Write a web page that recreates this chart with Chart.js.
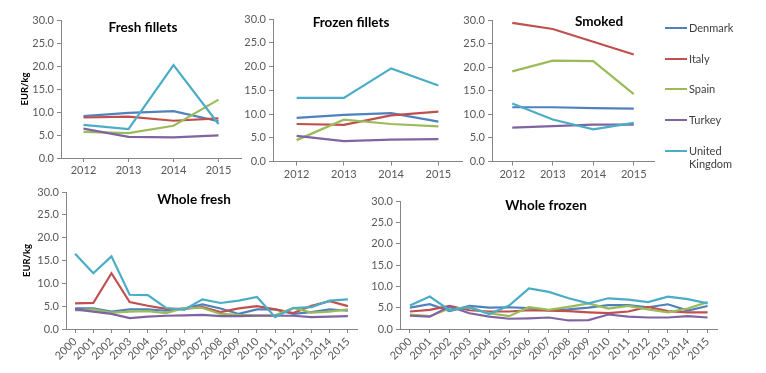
<!DOCTYPE html>
<html>
<head>
<meta charset="utf-8">
<script src="https://cdn.jsdelivr.net/npm/chart.js@4/dist/chart.umd.min.js"></script>
<style>
  body { margin: 0; background: #fff; }
  #wrap { position: relative; width: 766px; height: 373px; overflow: hidden; font-family: Lato, "Open Sans", sans-serif; }
  .panel { position: absolute; }
  #legend { position: absolute; left: 665px; top: 21px; font-size: 11px; color: #404040; }
  .item { display: flex; align-items: flex-start; height: 30.7px; }
  .swatch { width: 22px; height: 2px; margin-top: 6px; margin-right: 2px; }
</style>
</head>
<body>
<div id="wrap">
  <div class="panel" style="left:0;top:0;width:248px;height:185px"><canvas id="c1"></canvas></div>
  <div class="panel" style="left:240px;top:0;width:228px;height:185px"><canvas id="c2"></canvas></div>
  <div class="panel" style="left:458px;top:0;width:200px;height:185px"><canvas id="c3"></canvas></div>
  <div class="panel" style="left:0;top:180px;width:362px;height:193px"><canvas id="c4"></canvas></div>
  <div class="panel" style="left:362px;top:180px;width:362px;height:193px"><canvas id="c5"></canvas></div>
  <div id="legend"></div>
</div>
<script>
const countries = ["Denmark", "Italy", "Spain", "Turkey", "United Kingdom"];
const colors = ["#4F81BD", "#C0504D", "#9BBB59", "#8064A2", "#4BACC6"];
const shortYears = ["2012", "2013", "2014", "2015"];
const longYears = ["2000", "2001", "2002", "2003", "2004", "2005", "2006", "2007",
                   "2008", "2009", "2010", "2011", "2012", "2013", "2014", "2015"];

// EUR/kg, one row per country (same order as countries)
const freshFillets = [
  [9.1, 9.8, 10.2, 8.0],
  [8.8, 9.0, 8.1, 8.6],
  [5.7, 5.4, 7.0, 12.7],
  [6.4, 4.6, 4.5, 4.9],
  [7.2, 6.3, 20.2, 7.4]
];
const frozenFillets = [
  [9.2, 9.8, 10.2, 8.4],
  [7.9, 7.7, 9.7, 10.5],
  [4.5, 8.8, 7.9, 7.4],
  [5.4, 4.3, 4.6, 4.7],
  [13.4, 13.4, 19.6, 16.0]
];
const smoked = [
  [11.5, 11.5, 11.3, 11.2],
  [29.4, 28.1, 25.4, 22.7],
  [19.1, 21.4, 21.3, 14.3],
  [7.2, 7.5, 7.8, 7.8],
  [12.3, 8.9, 6.8, 8.2]
];
const wholeFresh = [
  [4.5, 4.5, 3.8, 4.3, 4.3, 4.0, 4.5, 5.4, 4.5, 3.3, 4.3, 4.3, 3.3, 3.7, 4.3, 4.0],
  [5.6, 5.7, 12.2, 5.9, 5.1, 4.4, 4.4, 4.8, 3.7, 4.5, 5.0, 4.3, 3.5, 5.1, 6.1, 5.0],
  [4.1, 4.3, 3.6, 3.8, 3.9, 3.5, 4.6, 4.6, 3.3, 3.1, 3.0, 3.0, 4.6, 3.6, 3.8, 4.3],
  [4.3, 3.8, 3.3, 2.4, 2.7, 2.9, 3.0, 3.1, 2.8, 2.8, 2.9, 2.9, 2.9, 2.6, 2.7, 2.8],
  [16.5, 12.2, 15.9, 7.5, 7.4, 4.6, 4.2, 6.5, 5.7, 6.2, 7.0, 2.6, 4.6, 4.8, 6.2, 6.5]
];
const wholeFrozen = [
  [5.0, 5.8, 4.2, 5.4, 5.0, 5.1, 4.9, 4.4, 4.6, 5.0, 5.6, 5.6, 5.1, 5.8, 4.3, 5.4],
  [4.1, 4.5, 5.4, 4.4, 4.1, 4.1, 4.4, 4.3, 4.2, 3.9, 3.7, 4.1, 5.2, 4.2, 3.9, 3.9],
  [3.4, 3.0, 4.8, 5.0, 3.7, 3.0, 5.1, 4.5, 5.2, 6.0, 4.8, 5.4, 4.6, 3.9, 4.8, 6.3],
  [3.1, 2.9, 5.3, 3.7, 2.9, 2.4, 2.5, 2.7, 2.0, 2.1, 3.4, 2.9, 2.7, 2.7, 3.0, 2.7],
  [5.5, 7.6, 4.4, 5.1, 3.5, 5.5, 9.5, 8.7, 7.2, 6.0, 7.2, 6.9, 6.3, 7.6, 7.0, 6.0]
];

const axisColor = "#868686";
const tickColor = "#595959";
const font = "Lato, 'Open Sans', sans-serif";

// draws the panel title inside the plot, like the original
const panelTitle = {
  id: "panelTitle",
  afterDraw(chart, args, opts) {
    const ctx = chart.ctx;
    ctx.save();
    ctx.font = "bold 13.5px " + font;
    ctx.fillStyle = "#000";
    ctx.textAlign = "center";
    ctx.textBaseline = "middle";
    ctx.fillText(opts.text, opts.x, opts.y);
    ctx.restore();
  }
};

function makePanel(id, title, labels, rows, o) {
  new Chart(document.getElementById(id), {
    type: "line",
    data: {
      labels: labels,
      datasets: rows.map((r, i) => ({
        label: countries[i],
        data: r,
        borderColor: colors[i],
        backgroundColor: colors[i],
        borderWidth: 2.2,
        pointRadius: 0,
        tension: 0,
        order: rows.length - 1 - i
      }))
    },
    options: {
      responsive: true,
      maintainAspectRatio: false,
      animation: false,
      layout: { padding: o.pad },
      plugins: {
        legend: { display: false },
        tooltip: { enabled: false },
        panelTitle: { text: title, x: o.tx, y: o.ty }
      },
      scales: {
        x: {
          offset: true,
          grid: { drawOnChartArea: false, tickLength: 4, color: axisColor },
          border: { color: axisColor },
          ticks: {
            color: tickColor, font: { family: font, size: 11 },
            padding: 2, autoSkip: false,
            maxRotation: o.rot, minRotation: o.rot
          },
          afterFit: s => { s.height = o.xh; }
        },
        y: {
          min: 0, max: 30,
          grid: { drawOnChartArea: false, tickLength: 4, color: axisColor },
          border: { color: axisColor },
          ticks: {
            stepSize: 5, color: tickColor, font: { family: font, size: 11 },
            padding: 3, callback: v => v.toFixed(1)
          },
          title: {
            display: o.yTitle, text: "EUR/kg", color: "#000",
            font: { family: font, size: 9.5, weight: "bold" }, padding: 0
          },
          afterFit: s => { s.width = o.yw; }
        }
      }
    },
    plugins: [panelTitle]
  });
}

makePanel("c1", "Fresh fillets", shortYears, freshFillets,
  { pad: { left: 19, top: 20, right: 7, bottom: 0 }, yw: 42, xh: 27, rot: 0, yTitle: true, tx: 143, ty: 28 });
makePanel("c2", "Frozen fillets", shortYears, frozenFillets,
  { pad: { left: 0, top: 19, right: 6, bottom: 0 }, yw: 33, xh: 23.5, rot: 0, yTitle: false, tx: 111, ty: 23 });
makePanel("c3", "Smoked", shortYears, smoked,
  { pad: { left: 0, top: 20, right: 4, bottom: 0 }, yw: 34, xh: 23.5, rot: 0, yTitle: false, tx: 141, ty: 22 });
makePanel("c4", "Whole fresh", longYears, wholeFresh,
  { pad: { left: 21, top: 12, right: 5, bottom: 0 }, yw: 45, xh: 44, rot: 45, yTitle: true, tx: 194, ty: 20 });
makePanel("c5", "Whole frozen", longYears, wholeFrozen,
  { pad: { left: 0, top: 21, right: 6.5, bottom: 0 }, yw: 38, xh: 44, rot: 45, yTitle: false, tx: 184, ty: 26 });

// shared legend
const legend = document.getElementById("legend");
countries.forEach((name, i) => {
  const item = document.createElement("div");
  item.className = "item";
  const sw = document.createElement("div");
  sw.className = "swatch";
  sw.style.background = colors[i];
  const txt = document.createElement("div");
  txt.innerHTML = name === "United Kingdom" ? "United<br>Kingdom" : name;
  txt.style.lineHeight = "13px";
  item.appendChild(sw);
  item.appendChild(txt);
  legend.appendChild(item);
});
</script>
</body>
</html>
